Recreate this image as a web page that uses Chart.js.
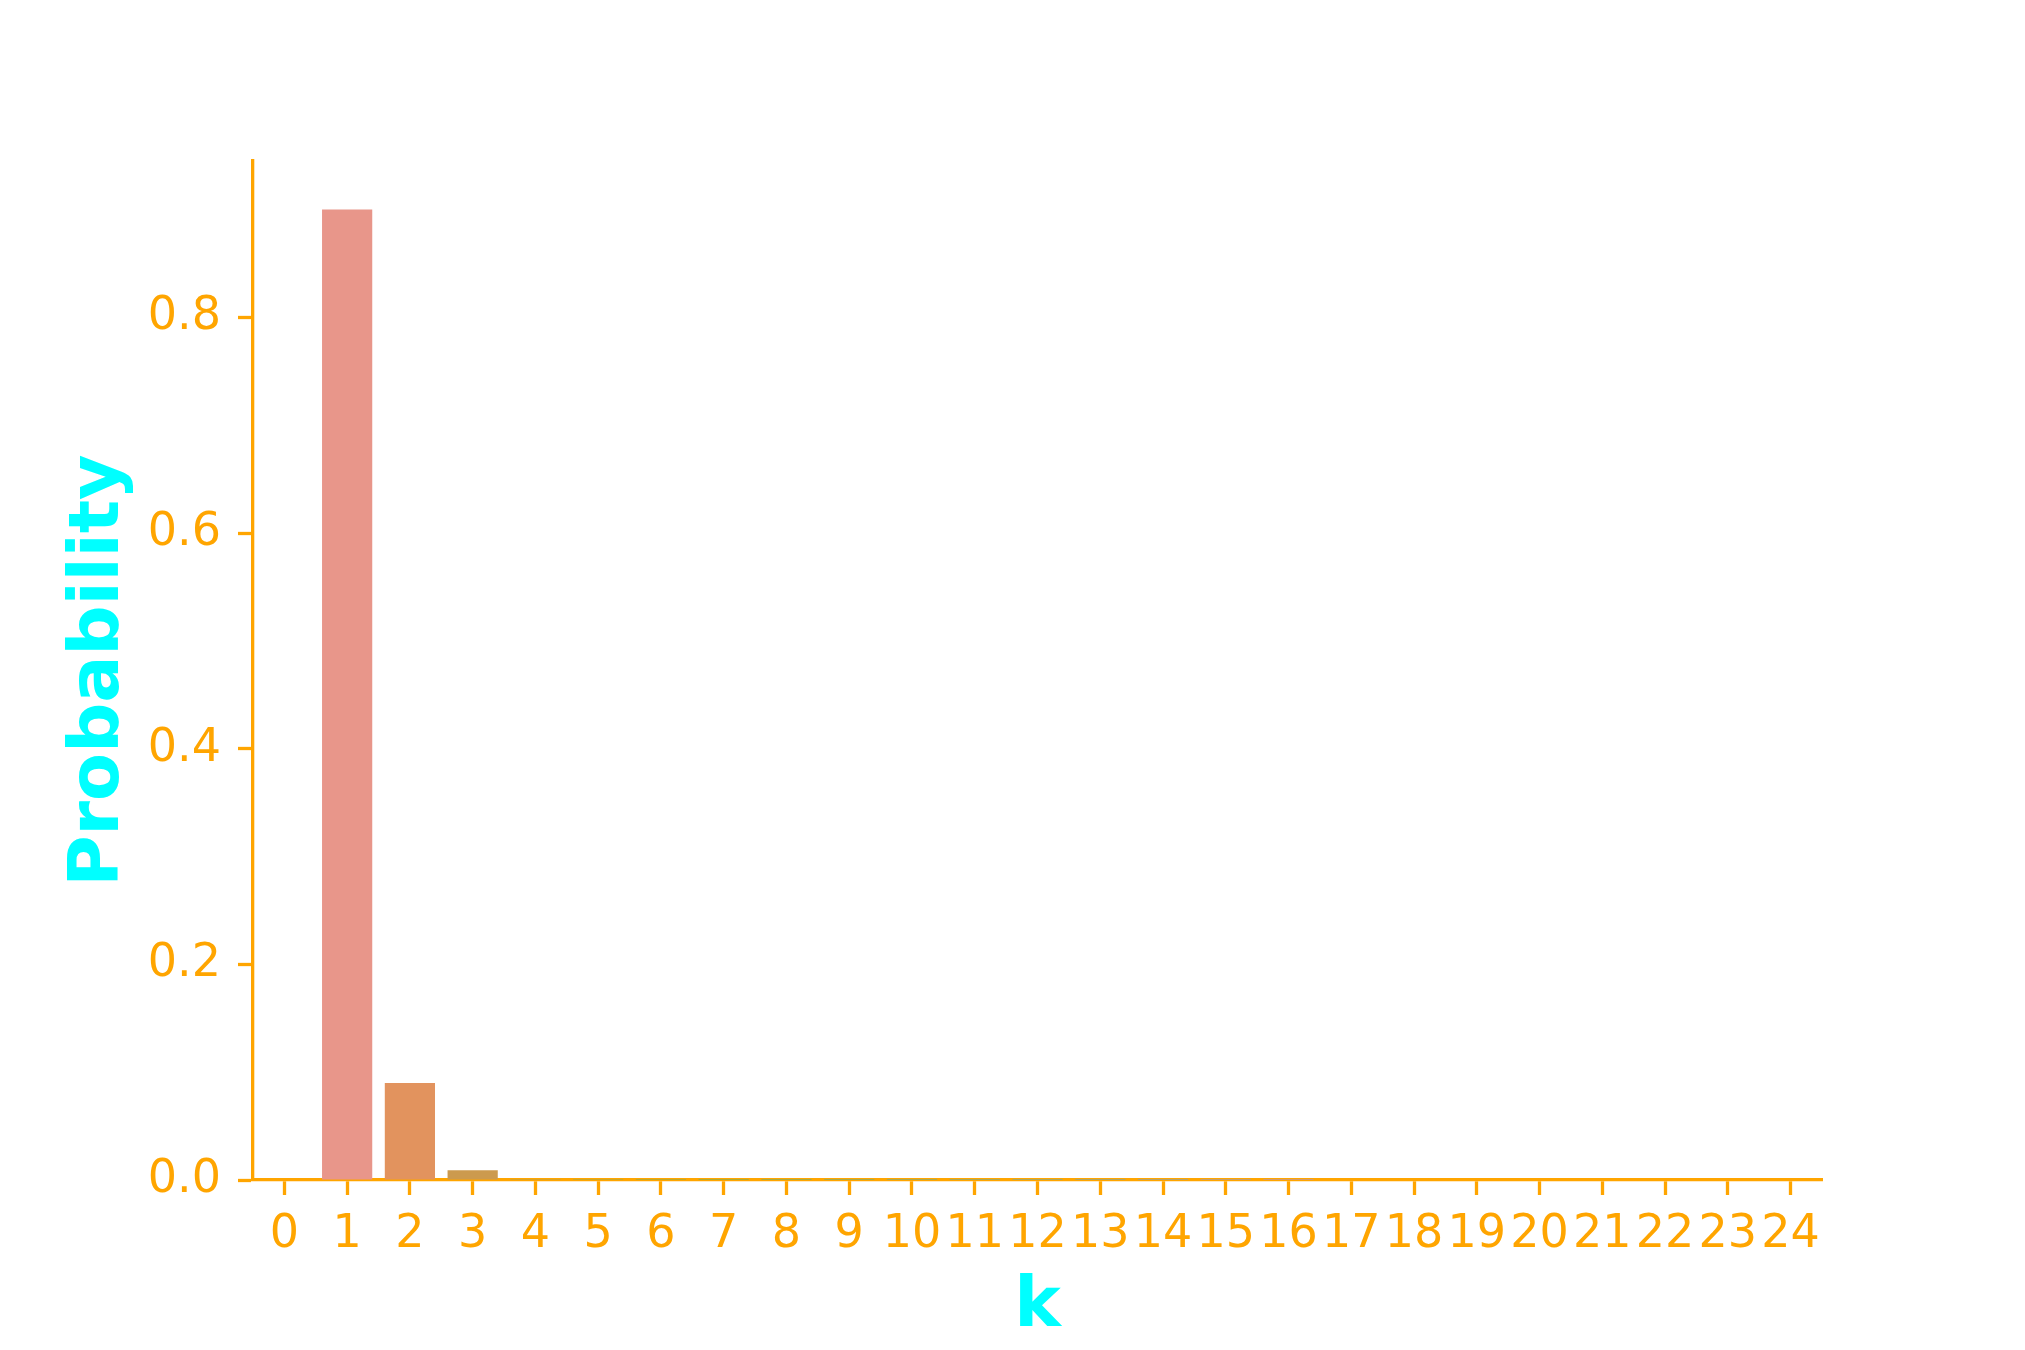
<!DOCTYPE html>
<html>
<head>
<meta charset="utf-8">
<script src="https://cdn.jsdelivr.net/npm/chart.js@4/dist/chart.umd.min.js"></script>
<style>
  html, body { margin: 0; padding: 0; background: #ffffff; }
  #wrap { width: 2025px; height: 1350px; }
</style>
</head>
<body>
<div id="wrap"><canvas id="barChart" width="2025" height="1350"></canvas></div>
<script>
// values (k = 0..24)
const kLabels = ['0','1','2','3','4','5','6','7','8','9','10','11','12','13','14','15','16','17','18','19','20','21','22','23','24'];
const probValues = [0, 0.9, 0.09, 0.009, 0.0009, 0.00009, 9e-6, 9e-7, 9e-8, 9e-9, 9e-10, 9e-11, 9e-12,
    9e-13, 9e-14, 9e-15, 9e-16, 9e-17, 9e-18, 9e-19, 9e-20, 9e-21, 9e-22, 9e-23, 9e-24];
const yTickValues = [0, 0.2, 0.4, 0.6, 0.8];
const yMax = 0.945;

// one colour per bar, going round the hue circle like the reference
const barColors = ['#e8968b', '#e8968a', '#e2935e', '#cc9a4e', '#b3a24e', '#9ca94e', '#80ae55', '#5eb269',
    '#52b283', '#53b096', '#54aea5', '#56acb2', '#58aabf', '#5ca6cd', '#6aa0d9', '#869ae0', '#a292e0',
    '#b98bdb', '#cc85d2', '#da83c6', '#e284b8', '#e688a9', '#e88c9c', '#e89091', '#e8948c'];

const ORANGE = '#ffa500';
const CYAN = '#00ffff';
const FONT = 'DejaVu Sans';

const ctxBar = document.getElementById('barChart').getContext('2d');
const barChart = new Chart(ctxBar, {
    type: 'bar',
    data: {
        labels: kLabels,
        datasets: [{
            data: probValues,
            backgroundColor: barColors,
            borderWidth: 0,
            barPercentage: 0.8,
            categoryPercentage: 1.0
        }]
    },
    options: {
        responsive: false,
        devicePixelRatio: 1,
        animation: false,
        layout: { padding: { top: 161, right: 203, bottom: 0, left: 0 } },
        plugins: {
            legend: { display: false },
            tooltip: { enabled: false }
        },
        scales: {
            x: {
                type: 'category',
                offset: true,
                grid: {
                    offset: false,
                    drawOnChartArea: false,
                    drawTicks: true,
                    tickLength: 15,
                    tickWidth: 3.3,
                    tickColor: ORANGE
                },
                border: { color: ORANGE, width: 3.3 },
                ticks: {
                    color: ORANGE,
                    font: { family: FONT, size: 46 },
                    padding: 12,
                    maxRotation: 0,
                    autoSkip: false
                },
                title: {
                    display: true,
                    text: 'k',
                    color: CYAN,
                    font: { family: FONT, size: 70, weight: 'bold' },
                    padding: { top: 0, bottom: 0 }
                },
                afterFit: scale => { scale.height = 170; }
            },
            y: {
                min: 0,
                max: yMax,
                grid: {
                    drawOnChartArea: false,
                    drawTicks: true,
                    tickLength: 15,
                    tickWidth: 3.3,
                    tickColor: ORANGE
                },
                border: { color: ORANGE, width: 3.3 },
                ticks: {
                    color: ORANGE,
                    font: { family: FONT, size: 46 },
                    padding: 17,
                    callback: v => v.toFixed(1)
                },
                afterBuildTicks: scale => {
                    scale.ticks = yTickValues.map(v => ({ value: v }));
                },
                title: {
                    display: true,
                    text: 'Probability',
                    color: CYAN,
                    font: { family: FONT, size: 70, weight: 'bold' },
                    padding: { top: 58, bottom: 0 }
                },
                afterFit: scale => { scale.width = 253; }
            }
        }
    }
});
</script>
</body>
</html>
